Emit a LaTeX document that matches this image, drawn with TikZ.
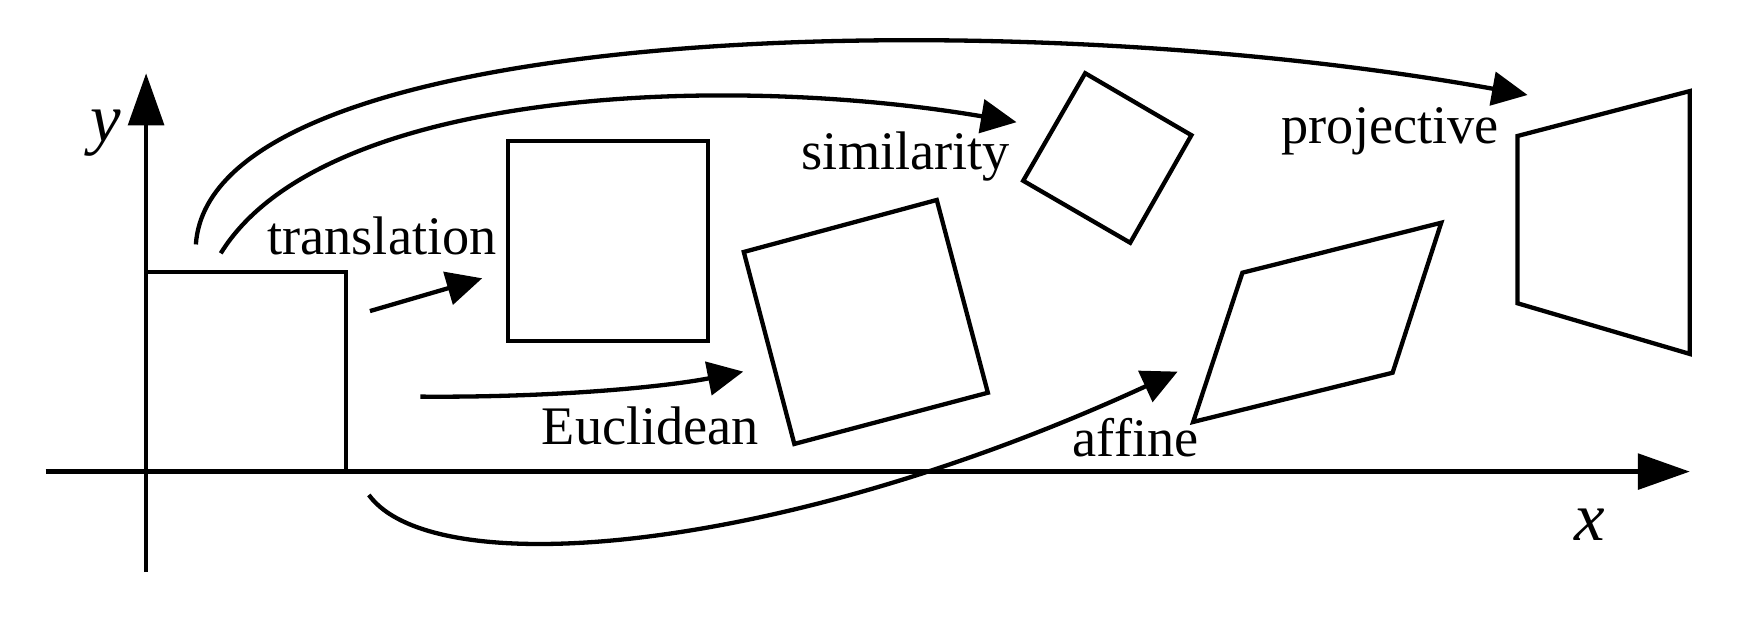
\documentclass[tikz,border=0pt]{standalone}
\usepackage{fontspec}
\setmainfont{Liberation Serif}
\usetikzlibrary{arrows.meta}
\tikzset{
  ln/.style={line width=1.1pt, line join=miter},
  axis/.style={ln, -{Triangle[length=13.3pt,width=9.1pt]}},
  conn/.style={ln, -{Triangle[length=9.1pt,width=8.6pt]}},
  lbl/.style={inner sep=0pt, anchor=base west, font=\fontsize{13.9}{16}\selectfont},
  axlbl/.style={inner sep=0pt, font=\fontsize{17.6}{20}\selectfont\itshape},
}
\begin{document}
\begin{tikzpicture}[x=0.01cm,y=-0.01cm]
\useasboundingbox (0,0) rectangle (1568,563.4);
% axes
\coordinate (xs) at (41,424.5);
\coordinate (xe) at (1521,424.5);
\coordinate (ys) at (131.5,515);
\coordinate (ye) at (131.5,66);
\draw[axis] (xs) -- (xe);
\draw[axis] (ys) -- (ye);
\node[axlbl] (ylab) at (95.5,120) {y};
\node[axlbl] (xlab) at (1431,472) {x};
% shapes
\draw[ln] (131.5,245) -- (311.5,245) -- (311.5,424.5);
\draw[ln] (457,127) rectangle (637,307);
\draw[ln] (669.5,226.8) -- (843.2,180) -- (889.2,353.5) -- (715,399.6) -- cycle;
\draw[ln] (976.8,65.9) -- (1072.4,121.7) -- (1017.3,218.5) -- (921,162.7) -- cycle;
\draw[ln] (1118.3,245.5) -- (1297.3,200.5) -- (1253.5,335.5) -- (1074,379.8) -- cycle;
\draw[ln] (1366,122.4) -- (1521,82) -- (1521,318.6) -- (1366,273) -- cycle;
% connector endpoints
\coordinate (ts) at (333,280);
\coordinate (te) at (434,250.5);
\coordinate (es) at (378.4,357);
\coordinate (ee) at (669,334.5);
\coordinate (ss) at (198.7,228);
\coordinate (se) at (915,110);
\coordinate (ps) at (176.3,220);
\coordinate (pe) at (1375,85.5);
\coordinate (as) at (332,445.5);
\coordinate (ae) at (1060,334.5);
% connectors
\draw[conn] (ts) -- (te);
\draw[conn] (es) .. controls (500,358) and (600,348) .. (ee);
\draw[conn] (ss) .. controls (290,80) and (650,65) .. (se);
\draw[conn] (ps) .. controls (190,20) and (900,0) .. (pe);
\draw[conn] (as) .. controls (390,525) and (700,500) .. (ae);
% labels
\node[lbl] (tl) at (240,229.5) {translation};
\node[lbl] (el) at (487,400.5) {Euclidean};
\node[lbl] (sl) at (721,153) {similarity};
\node[lbl] (pl) at (1153,129) {projective};
\node[lbl] (al) at (965,411) {affine};
\end{tikzpicture}
\end{document}
